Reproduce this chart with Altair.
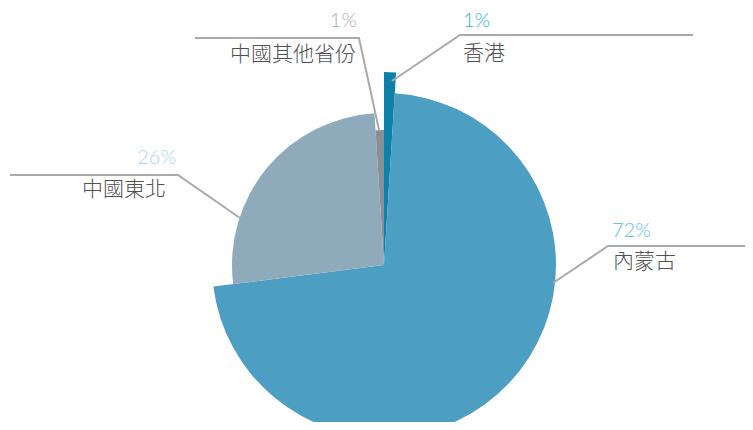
import altair as alt
import pandas as pd

# ---- data ----
categories = ["香港", "內蒙古", "中國東北", "中國其他省份"]
shares = [1, 72, 26, 1]

# ---- styles ----
slice_colors = ["#0f80a8", "#4c9ec2", "#8eaabb", "#8b8f93"]
slice_radius = [193, 172, 152, 135]
pct_colors = ["#27b3e6", "#62c2ea", "#a9d6f0", "#b0b0b0"]
CX, CY = 376, 257

# annotation layout (pixel positions)
leader_pts = {
    "香港": [(384, 73), (452, 27), (685, 27)],
    "內蒙古": [(545, 275), (600, 238), (745, 238)],
    "中國東北": [(232, 210), (170, 167), (2, 167)],
    "中國其他省份": [(371, 122), (351, 30), (187, 30)],
}
pct_pos = {"香港": (455, 13, "left"), "內蒙古": (604, 223, "left"),
           "中國東北": (168, 150, "right"), "中國其他省份": (349, 13, "right")}
name_pos = {"香港": (455, 46, "left"), "內蒙古": (605, 254, "left"),
            "中國東北": (158, 182, "right"), "中國其他省份": (348, 47, "right")}

pie_df = pd.DataFrame({
    "category": categories,
    "share": shares,
    "idx": list(range(len(categories))),
    "color": slice_colors,
    "r": slice_radius,
})

pie = alt.Chart(pie_df).transform_window(
    cum="sum(share)", sort=[alt.SortField("idx")]
).transform_calculate(
    start="datum.cum - datum.share"
).mark_arc(stroke=None).encode(
    theta=alt.Theta("start:Q", scale=alt.Scale(domain=[0, 100], range=[0, 6.283185307179586])),
    theta2="cum:Q",
    radius=alt.Radius("r:Q", scale=None),
    color=alt.Color("color:N", scale=None),
    x=alt.value(CX),
    y=alt.value(CY),
)

line_rows = []
for c in categories:
    for i, (px, py) in enumerate(leader_pts[c]):
        line_rows.append({"seg": c, "i": i, "px": px, "py": py})
lines = alt.Chart(pd.DataFrame(line_rows)).mark_line(
    stroke="#a9a9a9", strokeWidth=2
).encode(
    x=alt.X("px:Q", scale=None, axis=None),
    y=alt.Y("py:Q", scale=None, axis=None),
    detail="seg:N",
    order="i:Q",
)

text_rows = []
for c, s, pc in zip(categories, shares, pct_colors):
    x, y, a = pct_pos[c]
    text_rows.append({"t": f"{s}%", "x": x, "y": y, "a": a, "col": pc, "kind": "pct"})
    x, y, a = name_pos[c]
    text_rows.append({"t": c, "x": x, "y": y, "a": a, "col": "#505050", "kind": "name"})
tdf = pd.DataFrame(text_rows)

def text_layer(align, kind, font, weight, size):
    return alt.Chart(tdf).transform_filter(
        (alt.datum.a == align) & (alt.datum.kind == kind)
    ).mark_text(
        align=align, baseline="middle", fontSize=size, font=font, fontWeight=weight
    ).encode(
        x=alt.X("x:Q", scale=None, axis=None),
        y=alt.Y("y:Q", scale=None, axis=None),
        text="t:N",
        color=alt.Color("col:N", scale=None),
    )

layers = [pie, lines]
for al in ["left", "right"]:
    layers.append(text_layer(al, "pct", "Lato", 300, 20))
    layers.append(text_layer(al, "name", "Noto Sans CJK TC", 200, 21))

chart = alt.layer(*layers).properties(
    width=737, height=414, padding=0, autosize="none"
).configure_view(stroke=None)

chart.save("out.html", embed_options={"renderer": "svg", "actions": False})
